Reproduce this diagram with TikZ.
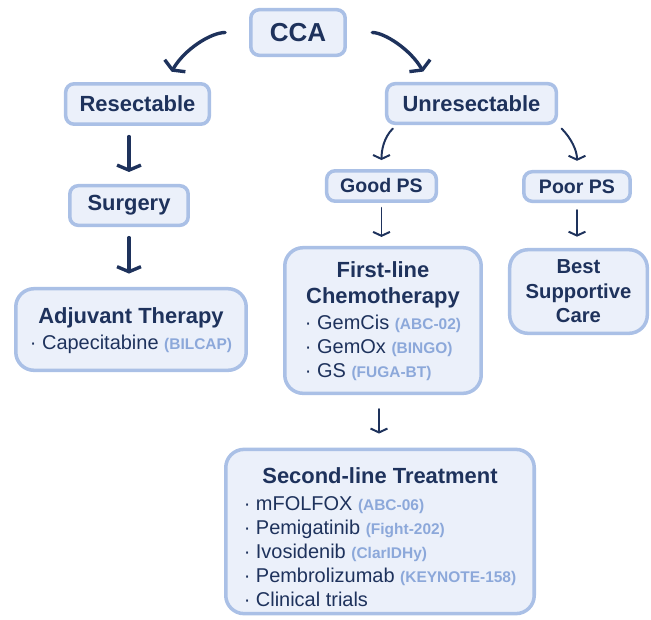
\documentclass[tikz,border=0pt]{standalone}
\usepackage{fontspec}
\setmainfont{Liberation Sans}
\usetikzlibrary{arrows.meta}
\usetikzlibrary{calc}

\definecolor{navy}{RGB}{30,50,92}
\definecolor{boxline}{RGB}{170,192,230}
\definecolor{boxfill}{RGB}{235,240,250}
\definecolor{refblue}{RGB}{140,168,218}

\newcommand{\ttlfont}{\fontsize{15.6}{18.3}\selectfont\bfseries}
\newcommand{\rf}[1]{{\fontsize{11}{13}\selectfont\bfseries\color{refblue}#1}}
\newcommand{\drugs}[1]{{\mdseries\fontsize{14.2}{17}\selectfont\begin{tabular}[t]{@{}l@{}}#1\end{tabular}}}

\tikzset{box/.style={draw=boxline, fill=boxfill, line width=2.5pt, rounded corners=6pt, text=navy, inner sep=0pt, font=\ttlfont}}
\tikzset{bigbox/.style={box, rounded corners=13pt, align=center}}
\tikzset{arr/.style={-{Straight Barb[length=3.6pt,width=17pt]}, draw=navy, line width=2.4pt, line cap=round}}
\tikzset{thinarr/.style={-{Straight Barb[length=2.8pt,width=12pt]}, draw=navy, line width=1.4pt, line cap=round}}

\begin{document}
\begin{tikzpicture}[x=0.025cm, y=-0.025cm]
\useasboundingbox (0,0) rectangle (651,619);

%%% The top
\node[box, minimum width=2.36cm, minimum height=1.14cm, font=\fontsize{18.5}{20}\selectfont\bfseries] (cca) at (298,32.5) {CCA};

%%% The resectable branch
\node[box, minimum width=3.59cm, minimum height=1.01cm] (res) at (137.5,104) {Resectable};
\node[box, minimum width=2.96cm, minimum height=0.99cm] (surg) at (129,205.5) {Surgery};
\node[bigbox, minimum width=5.76cm, minimum height=2.04cm] (adj) at (131,329.5)
  {\rule{0pt}{15pt}Adjuvant Therapy\\\drugs{· Capecitabine \rf{(BILCAP)}}};

%%% The unresectable branch
\node[box, minimum width=4.24cm, minimum height=0.99cm] (unres) at (471.5,103.5) {Unresectable};
\node[box, minimum width=2.74cm, minimum height=0.76cm, font=\fontsize{13.9}{16}\selectfont\bfseries] (good) at (381.5,186) {Good PS};
\node[box, minimum width=2.66cm, minimum height=0.74cm, font=\fontsize{13.9}{16}\selectfont\bfseries] (poor) at (577,186.5) {Poor PS};
\node[bigbox, minimum width=4.91cm, minimum height=3.64cm] (first) at (383,320.5)
  {\rule{0pt}{15pt}First-line\\Chemotherapy\\\drugs{· GemCis \rf{(ABC-02)}\\· GemOx \rf{(BINGO)}\\· GS \rf{(FUGA-BT)}}};
\node[bigbox, minimum width=3.44cm, minimum height=2.09cm, font=\fontsize{14.4}{17.5}\selectfont\bfseries] (bsc) at (578.5,291.5)
  {Best\\Supportive\\Care};
\node[bigbox, minimum width=7.71cm, minimum height=3.99cm] (second) at (380,531.5)
  {\rule{0pt}{24pt}Second-line Treatment\\[1.4pt]\drugs{· mFOLFOX \rf{(ABC-06)}\\· Pemigatinib \rf{(Fight-202)}\\· Ivosidenib \rf{(ClarIDHy)}\\· Pembrolizumab \rf{(KEYNOTE-158)}\\· Clinical trials}};

\draw[arr, shorten <=17pt, shorten >=8.5pt] (cca.west) to[out=180, in=60] (res.38);
\draw[arr, shorten <=18pt, shorten >=8.5pt] (cca.east) to[out=0, in=120] (unres.153);

\draw[arr, shorten <=7.5pt, shorten >=8.5pt] (surg.north |- res.south) -- (surg.north);
\draw[arr, shorten <=7.5pt, shorten >=9.5pt] (surg.south) -- (surg.south |- adj.north);

\draw[thinarr, shorten <=3.5pt, shorten >=6.4pt] (unres.196) to[out=225, in=90] (good.north);
\draw[thinarr, shorten <=3.5pt, shorten >=6.5pt] (unres.south east) to[out=-45, in=90] (poor.north);

\draw[thinarr, shorten <=3.5pt, shorten >=6.4pt] (good.south) -- (good.south |- first.north);
\draw[thinarr, shorten <=5pt, shorten >=8pt] (poor.south) -- (poor.south |- bsc.north);
\draw[thinarr, shorten <=10pt, shorten >=10pt] ($(first.south)+(-4,0)$) -- ($(first.south |- second.north)+(-4,0)$);

\end{tikzpicture}
\end{document}
